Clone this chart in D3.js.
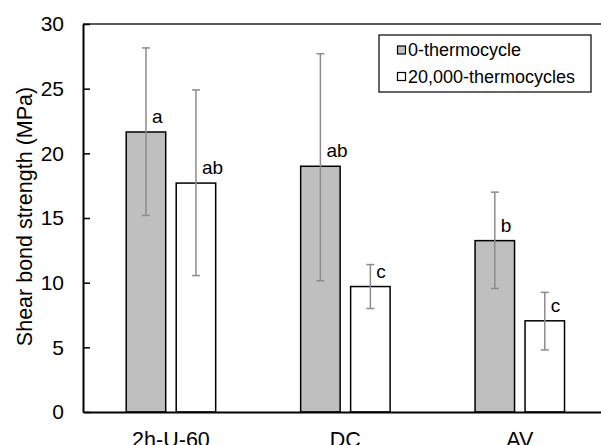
<!DOCTYPE html>
<html>
<head>
<meta charset="utf-8">
<script src="https://cdn.jsdelivr.net/npm/d3@7"></script>
<style>
  html, body { margin: 0; padding: 0; background: #fff; }
  svg { display: block; font-family: "Liberation Sans", Arial, sans-serif; }
</style>
</head>
<body>
<svg id="chart" width="601" height="445"></svg>
<script>
// ---- data ----
const categories = ["2h-U-60", "DC", "AV"];
const seriesNames = ["0-thermocycle", "20,000-thermocycles"];
const seriesColors = ["#bfbfbf", "#ffffff"];
const means0 = [21.65, 19.0, 13.25];
const means20k = [17.7, 9.7, 7.05];
const upper0 = [28.15, 27.7, 17.0];
const lower0 = [15.2, 10.15, 9.55];
const upper20k = [24.9, 11.4, 9.25];
const lower20k = [10.55, 8.0, 4.8];
const letters0 = ["a", "ab", "b"];
const letters20k = ["ab", "c", "c"];
const yTicks = [0, 5, 10, 15, 20, 25, 30];

const rows = [];
categories.forEach((c, i) => {
  rows.push({cat: c, s: 0, v: means0[i], hi: upper0[i], lo: lower0[i], letter: letters0[i]});
  rows.push({cat: c, s: 1, v: means20k[i], hi: upper20k[i], lo: lower20k[i], letter: letters20k[i]});
});

// ---- layout ----
const svg = d3.select("#chart");
const mLeft = 83, mTop = 24, mBottom = 412, mRight = 607;

const x = d3.scaleBand().domain(categories).range([mLeft + 0.75, mRight]).paddingInner(0).paddingOuter(0);
const xs = d3.scaleBand().domain([0, 1]).range([0, x.bandwidth()]).paddingInner(0.21).paddingOuter(0.85);
const y = d3.scaleLinear().domain([0, 30]).range([mBottom, mTop]);

// top frame line
svg.append("line").attr("x1", mLeft).attr("x2", 601).attr("y1", mTop).attr("y2", mTop)
  .attr("stroke", "#222").attr("stroke-width", 1.5);

// bars
svg.append("g").selectAll("rect").data(rows).join("rect")
  .attr("x", d => x(d.cat) + xs(d.s))
  .attr("width", xs.bandwidth())
  .attr("y", d => y(d.v))
  .attr("height", d => y(0) - y(d.v))
  .attr("fill", d => seriesColors[d.s])
  .attr("stroke", "#000").attr("stroke-width", 1.5);

// error bars
const eb = svg.append("g").attr("stroke", "#8c8c8c").attr("stroke-width", 1.5);
const cx = d => x(d.cat) + xs(d.s) + xs.bandwidth() / 2;
eb.selectAll("line.v").data(rows).join("line").attr("class", "v")
  .attr("x1", cx).attr("x2", cx).attr("y1", d => y(d.hi)).attr("y2", d => y(d.lo));
eb.selectAll("line.t").data(rows).join("line").attr("class", "t")
  .attr("x1", d => cx(d) - 4).attr("x2", d => cx(d) + 4).attr("y1", d => y(d.hi)).attr("y2", d => y(d.hi));
eb.selectAll("line.b").data(rows).join("line").attr("class", "b")
  .attr("x1", d => cx(d) - 4).attr("x2", d => cx(d) + 4).attr("y1", d => y(d.lo)).attr("y2", d => y(d.lo));

// significance letters
svg.append("g").selectAll("text").data(rows).join("text")
  .attr("x", d => cx(d) + 6)
  .attr("y", d => y(d.v) - 9)
  .attr("font-size", 19)
  .attr("fill", "#000")
  .text(d => d.letter);

// y axis
const yAxis = d3.axisLeft(y).tickValues(yTicks).tickSizeInner(-7).tickSizeOuter(0).tickPadding(19)
  .tickFormat(d3.format("d"));
const ga = svg.append("g").attr("transform", `translate(${mLeft},0)`).call(yAxis);
ga.select(".domain").attr("stroke", "#000").attr("stroke-width", 2);
ga.selectAll(".tick line").attr("stroke", "#000").attr("stroke-width", 1.5);
ga.selectAll(".tick text").attr("font-size", 21).attr("fill", "#000")
  .attr("font-family", "Liberation Sans, Arial, sans-serif");

// x axis
const xAxis = d3.axisBottom(x).tickSize(0).tickPadding(0);
const gx = svg.append("g").attr("transform", `translate(0,${mBottom})`).call(xAxis);
gx.select(".domain").attr("stroke", "#000").attr("stroke-width", 2);
gx.selectAll(".tick text").attr("font-size", 21.5).attr("fill", "#000").attr("dy", null)
  .attr("y", 35).attr("font-family", "Liberation Sans, Arial, sans-serif");

// y axis title
svg.append("text")
  .attr("transform", `translate(32,216.5) rotate(-90)`)
  .attr("text-anchor", "middle")
  .attr("font-size", 21.5)
  .attr("fill", "#000")
  .text("Shear bond strength (MPa)");

// legend
const lg = svg.append("g");
lg.append("rect").attr("x", 379).attr("y", 35).attr("width", 212).attr("height", 57)
  .attr("fill", "#fff").attr("stroke", "#000").attr("stroke-width", 1.2);
seriesNames.forEach((name, i) => {
  const yy = 50 + i * 26.5;
  lg.append("rect").attr("x", 397.5).attr("y", yy - 4).attr("width", 8).attr("height", 8)
    .attr("fill", seriesColors[i]).attr("stroke", "#000").attr("stroke-width", 1.2);
  lg.append("text").attr("x", 408).attr("y", yy).attr("dy", "0.35em")
    .attr("font-size", 18).attr("fill", "#000").text(name);
});
</script>
</body>
</html>
